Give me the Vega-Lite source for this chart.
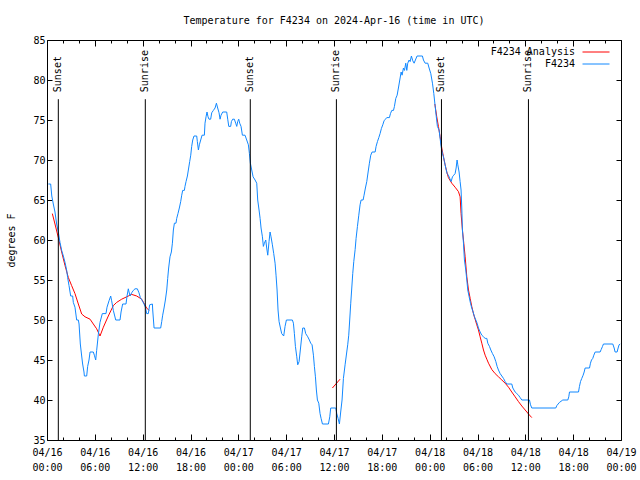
{
  "$schema": "https://vega.github.io/schema/vega-lite/v6.json",
  "width": 574,
  "height": 400,
  "autosize": "none",
  "padding": {"left": 47, "top": 40, "right": 19, "bottom": 40},
  "background": "white",
  "title": {"text": "Temperature for F4234 on 2024-Apr-16 (time in UTC)", "font": "DejaVu Sans Mono", "fontSize": 10, "fontWeight": "normal", "color": "black", "offset": 9},
  "config": {
    "view": {"stroke": "black", "strokeWidth": 1},
    "axis": {"domain": false, "grid": false, "labelFont": "DejaVu Sans Mono", "labelFontSize": 10, "labelColor": "black", "tickColor": "black", "titleFont": "DejaVu Sans Mono", "titleFontSize": 10, "titleFontWeight": "normal", "titleColor": "black"}
  },
  "datasets": {
    "analysis": [
      {"h":0.67,"t":63.3,"s":"F4234 Analysis","g":1},{"h":1.0,"t":62,"s":"F4234 Analysis","g":1},{"h":1.42,"t":60.3,"s":"F4234 Analysis","g":1},{"h":1.84,"t":58.5,"s":"F4234 Analysis","g":1},{"h":2.26,"t":56.8,"s":"F4234 Analysis","g":1},{"h":2.68,"t":55.3,"s":"F4234 Analysis","g":1},{"h":3.09,"t":54.3,"s":"F4234 Analysis","g":1},{"h":3.51,"t":53.3,"s":"F4234 Analysis","g":1},{"h":3.93,"t":52,"s":"F4234 Analysis","g":1},{"h":4.35,"t":50.75,"s":"F4234 Analysis","g":1},{"h":4.77,"t":50.4,"s":"F4234 Analysis","g":1},{"h":5.4,"t":50.1,"s":"F4234 Analysis","g":1},{"h":5.81,"t":49.5,"s":"F4234 Analysis","g":1},{"h":6.23,"t":48.9,"s":"F4234 Analysis","g":1},{"h":6.65,"t":48,"s":"F4234 Analysis","g":1},{"h":7.07,"t":49.1,"s":"F4234 Analysis","g":1},{"h":7.69,"t":50.5,"s":"F4234 Analysis","g":1},{"h":8.32,"t":51.8,"s":"F4234 Analysis","g":1},{"h":8.74,"t":52.2,"s":"F4234 Analysis","g":1},{"h":9.37,"t":52.6,"s":"F4234 Analysis","g":1},{"h":10.0,"t":52.9,"s":"F4234 Analysis","g":1},{"h":10.62,"t":53.2,"s":"F4234 Analysis","g":1},{"h":11.25,"t":53.0,"s":"F4234 Analysis","g":1},{"h":11.88,"t":52.6,"s":"F4234 Analysis","g":1},{"h":12.21,"t":52,"s":"F4234 Analysis","g":1},{"h":12.5,"t":51.5,"s":"F4234 Analysis","g":1},{"h":12.8,"t":51.2,"s":"F4234 Analysis","g":1},
      {"h":35.8,"t":41.5,"s":"F4234 Analysis","g":2},{"h":36.76,"t":42.6,"s":"F4234 Analysis","g":2},
      {"h":48.65,"t":77,"s":"F4234 Analysis","g":3},{"h":48.89,"t":75.4,"s":"F4234 Analysis","g":3},{"h":49.1,"t":74.2,"s":"F4234 Analysis","g":3},{"h":49.31,"t":72.9,"s":"F4234 Analysis","g":3},{"h":49.52,"t":71.5,"s":"F4234 Analysis","g":3},{"h":49.73,"t":70.4,"s":"F4234 Analysis","g":3},{"h":49.94,"t":69.4,"s":"F4234 Analysis","g":3},{"h":50.15,"t":68.5,"s":"F4234 Analysis","g":3},{"h":50.35,"t":67.8,"s":"F4234 Analysis","g":3},{"h":50.77,"t":67.1,"s":"F4234 Analysis","g":3},{"h":51.19,"t":66.6,"s":"F4234 Analysis","g":3},{"h":51.61,"t":66.05,"s":"F4234 Analysis","g":3},{"h":51.82,"t":65.4,"s":"F4234 Analysis","g":3},{"h":51.94,"t":63.3,"s":"F4234 Analysis","g":3},{"h":52.11,"t":61.25,"s":"F4234 Analysis","g":3},{"h":52.28,"t":59.6,"s":"F4234 Analysis","g":3},{"h":52.45,"t":57.9,"s":"F4234 Analysis","g":3},{"h":52.66,"t":55.4,"s":"F4234 Analysis","g":3},{"h":52.87,"t":53.75,"s":"F4234 Analysis","g":3},{"h":53.08,"t":52.7,"s":"F4234 Analysis","g":3},{"h":53.28,"t":51.7,"s":"F4234 Analysis","g":3},{"h":53.49,"t":50.8,"s":"F4234 Analysis","g":3},{"h":53.7,"t":50.1,"s":"F4234 Analysis","g":3},{"h":53.91,"t":49.4,"s":"F4234 Analysis","g":3},{"h":54.12,"t":48.75,"s":"F4234 Analysis","g":3},{"h":54.33,"t":47.9,"s":"F4234 Analysis","g":3},{"h":54.54,"t":47.1,"s":"F4234 Analysis","g":3},{"h":54.75,"t":46.25,"s":"F4234 Analysis","g":3},{"h":54.96,"t":45.6,"s":"F4234 Analysis","g":3},{"h":55.17,"t":45.1,"s":"F4234 Analysis","g":3},{"h":55.38,"t":44.6,"s":"F4234 Analysis","g":3},{"h":55.8,"t":43.8,"s":"F4234 Analysis","g":3},{"h":56.21,"t":43.3,"s":"F4234 Analysis","g":3},{"h":56.63,"t":42.9,"s":"F4234 Analysis","g":3},{"h":57.05,"t":42.5,"s":"F4234 Analysis","g":3},{"h":57.47,"t":42.1,"s":"F4234 Analysis","g":3},{"h":57.89,"t":41.6,"s":"F4234 Analysis","g":3},{"h":58.3,"t":41.0,"s":"F4234 Analysis","g":3},{"h":58.72,"t":40.4,"s":"F4234 Analysis","g":3},{"h":59.14,"t":39.8,"s":"F4234 Analysis","g":3},{"h":59.56,"t":39.25,"s":"F4234 Analysis","g":3},{"h":59.98,"t":38.75,"s":"F4234 Analysis","g":3},{"h":60.4,"t":38.25,"s":"F4234 Analysis","g":3},{"h":60.81,"t":37.8,"s":"F4234 Analysis","g":3}
    ],
    "obs": [
      {"h":0.17,"t":67},{"h":0.46,"t":67},{"h":0.6,"t":65.5},{"h":0.79,"t":64.5},{"h":1.0,"t":63.5},{"h":1.21,"t":62},{"h":1.42,"t":61},{"h":1.63,"t":59.7},{"h":1.84,"t":58.7},{"h":2.05,"t":58},{"h":2.26,"t":57.2},{"h":2.47,"t":56.2},{"h":2.59,"t":55.3},{"h":2.76,"t":54.3},{"h":2.97,"t":53},{"h":3.22,"t":53},{"h":3.3,"t":52.2},{"h":3.51,"t":51.6},{"h":3.72,"t":50},{"h":3.93,"t":50},{"h":4.02,"t":49.5},{"h":4.18,"t":47},{"h":4.35,"t":45.5},{"h":4.47,"t":44.5},{"h":4.64,"t":43.5},{"h":4.69,"t":43},{"h":4.98,"t":43},{"h":5.1,"t":44.2},{"h":5.27,"t":45},{"h":5.4,"t":46},{"h":5.81,"t":46},{"h":5.94,"t":45.6},{"h":6.11,"t":45},{"h":6.23,"t":46.2},{"h":6.44,"t":48.2},{"h":6.65,"t":49.7},{"h":6.94,"t":50.8},{"h":7.4,"t":50.8},{"h":7.53,"t":51.6},{"h":7.78,"t":52.4},{"h":7.99,"t":53},{"h":8.11,"t":52.4},{"h":8.32,"t":51.2},{"h":8.62,"t":50},{"h":9.16,"t":50},{"h":9.29,"t":51},{"h":9.49,"t":52},{"h":9.91,"t":52},{"h":10.04,"t":53},{"h":10.2,"t":53.9},{"h":10.41,"t":53},{"h":10.62,"t":53.4},{"h":10.83,"t":53.7},{"h":11.04,"t":53.9},{"h":11.33,"t":53.9},{"h":11.54,"t":53.4},{"h":11.71,"t":52.8},{"h":11.96,"t":52.4},{"h":12.17,"t":52},{"h":12.34,"t":51.6},{"h":12.5,"t":50.8},{"h":12.71,"t":50.8},{"h":12.88,"t":51.9},{"h":13.22,"t":52},{"h":13.26,"t":51.25},{"h":13.43,"t":49},{"h":14.26,"t":49},{"h":14.39,"t":49.8},{"h":14.51,"t":50.6},{"h":14.68,"t":51.5},{"h":14.85,"t":52.5},{"h":15.02,"t":53.75},{"h":15.14,"t":55.2},{"h":15.26,"t":56.5},{"h":15.43,"t":57.9},{"h":15.6,"t":58.5},{"h":15.73,"t":59.6},{"h":15.85,"t":61.25},{"h":15.98,"t":62.1},{"h":16.18,"t":62.1},{"h":16.27,"t":62.7},{"h":16.43,"t":63.3},{"h":16.6,"t":64},{"h":16.77,"t":64.8},{"h":16.9,"t":65.6},{"h":17.02,"t":66.2},{"h":17.23,"t":66.2},{"h":17.31,"t":66.7},{"h":17.44,"t":67.3},{"h":17.61,"t":68},{"h":17.73,"t":68.75},{"h":17.9,"t":69.8},{"h":18.03,"t":70.6},{"h":18.15,"t":71.7},{"h":18.28,"t":72.5},{"h":18.44,"t":73},{"h":18.78,"t":73},{"h":18.86,"t":72.3},{"h":18.99,"t":71.25},{"h":19.11,"t":71.9},{"h":19.28,"t":72.5},{"h":19.45,"t":73.1},{"h":19.74,"t":73.1},{"h":19.82,"t":74.6},{"h":19.95,"t":75.4},{"h":20.07,"t":76},{"h":20.2,"t":75.4},{"h":20.32,"t":75.1},{"h":20.53,"t":75.1},{"h":20.66,"t":75.9},{"h":20.87,"t":76.2},{"h":21.08,"t":76.5},{"h":21.25,"t":77.1},{"h":21.41,"t":76.5},{"h":21.58,"t":75.9},{"h":21.71,"t":75.1},{"h":21.83,"t":75.6},{"h":22.04,"t":76},{"h":22.54,"t":76},{"h":22.67,"t":75.1},{"h":22.8,"t":74.2},{"h":23.04,"t":74.2},{"h":23.13,"t":74.8},{"h":23.29,"t":75.1},{"h":23.5,"t":75.1},{"h":23.67,"t":74.6},{"h":23.8,"t":74.2},{"h":23.92,"t":74.8},{"h":24.05,"t":75.1},{"h":24.17,"t":74.6},{"h":24.34,"t":74.2},{"h":24.51,"t":73.1},{"h":24.84,"t":73.1},{"h":25.05,"t":72.5},{"h":25.26,"t":71.9},{"h":25.39,"t":70.8},{"h":25.51,"t":69.6},{"h":25.68,"t":68.75},{"h":25.85,"t":67.9},{"h":26.1,"t":67.5},{"h":26.31,"t":67.1},{"h":26.43,"t":65},{"h":26.6,"t":63.75},{"h":26.73,"t":62.7},{"h":26.85,"t":61.5},{"h":27.02,"t":60.4},{"h":27.14,"t":59.2},{"h":27.27,"t":59.6},{"h":27.44,"t":60},{"h":27.56,"t":59},{"h":27.69,"t":58.1},{"h":27.85,"t":59.8},{"h":27.98,"t":61},{"h":28.1,"t":60.4},{"h":28.27,"t":59.4},{"h":28.44,"t":58.3},{"h":28.61,"t":57.1},{"h":28.73,"t":55.6},{"h":28.86,"t":53.75},{"h":28.98,"t":51.25},{"h":29.11,"t":49.8},{"h":29.28,"t":49},{"h":29.44,"t":48.3},{"h":29.69,"t":48},{"h":29.86,"t":49.2},{"h":30.03,"t":50},{"h":30.78,"t":50},{"h":30.91,"t":49.6},{"h":31.03,"t":48.3},{"h":31.16,"t":46.7},{"h":31.33,"t":45.4},{"h":31.45,"t":44.4},{"h":31.62,"t":44.8},{"h":31.75,"t":46},{"h":31.95,"t":47.9},{"h":32.08,"t":49},{"h":32.29,"t":49},{"h":32.45,"t":48.3},{"h":32.71,"t":47.9},{"h":32.91,"t":47.5},{"h":33.08,"t":47.1},{"h":33.25,"t":46.9},{"h":33.42,"t":45.6},{"h":33.54,"t":44.2},{"h":33.67,"t":42.9},{"h":33.79,"t":41.25},{"h":33.92,"t":40},{"h":34.09,"t":39.6},{"h":34.25,"t":38.3},{"h":34.38,"t":37.7},{"h":34.55,"t":37},{"h":35.3,"t":37},{"h":35.47,"t":37.9},{"h":35.59,"t":39},{"h":36.22,"t":39},{"h":36.35,"t":38.3},{"h":36.51,"t":37.7},{"h":36.68,"t":37},{"h":36.84,"t":38.5},{"h":37.01,"t":40},{"h":37.18,"t":42.7},{"h":37.39,"t":44.4},{"h":37.6,"t":46},{"h":37.72,"t":46.9},{"h":37.85,"t":48.1},{"h":37.97,"t":50},{"h":38.1,"t":52.1},{"h":38.23,"t":54},{"h":38.35,"t":55.8},{"h":38.48,"t":57.3},{"h":38.65,"t":58.8},{"h":38.77,"t":60.2},{"h":38.94,"t":61.7},{"h":39.11,"t":63.1},{"h":39.27,"t":64.4},{"h":39.4,"t":65},{"h":39.65,"t":65},{"h":39.77,"t":65.6},{"h":39.94,"t":66.5},{"h":40.11,"t":67.3},{"h":40.28,"t":68.5},{"h":40.44,"t":69.6},{"h":40.61,"t":70.6},{"h":40.78,"t":71},{"h":41.16,"t":71},{"h":41.28,"t":71.7},{"h":41.45,"t":72.3},{"h":41.62,"t":72.8},{"h":41.78,"t":73.3},{"h":41.95,"t":73.95},{"h":42.12,"t":74.4},{"h":42.28,"t":74.9},{"h":42.45,"t":75.1},{"h":42.62,"t":75.3},{"h":42.95,"t":75.3},{"h":43.08,"t":75.8},{"h":43.25,"t":76.2},{"h":43.46,"t":76.2},{"h":43.58,"t":76.7},{"h":43.75,"t":77.7},{"h":43.92,"t":78.1},{"h":44.08,"t":79},{"h":44.25,"t":80},{"h":44.42,"t":81},{"h":44.54,"t":80.6},{"h":44.71,"t":81.5},{"h":44.84,"t":81.2},{"h":45.0,"t":82.1},{"h":45.13,"t":81.2},{"h":45.25,"t":82.1},{"h":45.42,"t":82.5},{"h":45.55,"t":82.3},{"h":45.71,"t":83},{"h":45.88,"t":82.4},{"h":46.05,"t":82.1},{"h":46.21,"t":82.5},{"h":46.42,"t":83},{"h":47.09,"t":83},{"h":47.22,"t":82.5},{"h":47.43,"t":82.1},{"h":47.76,"t":82.1},{"h":47.93,"t":81.5},{"h":48.14,"t":80.8},{"h":48.35,"t":79.6},{"h":48.52,"t":78.3},{"h":48.68,"t":76.8},{"h":48.81,"t":75.6},{"h":48.97,"t":74.2},{"h":49.18,"t":73.75},{"h":49.31,"t":72.7},{"h":49.43,"t":71.7},{"h":49.6,"t":70.8},{"h":49.73,"t":70.4},{"h":49.85,"t":69.8},{"h":50.02,"t":69},{"h":50.19,"t":68.3},{"h":50.35,"t":68.1},{"h":50.52,"t":67.7},{"h":50.69,"t":67.3},{"h":50.86,"t":67.9},{"h":51.02,"t":68.1},{"h":51.19,"t":68.3},{"h":51.32,"t":69},{"h":51.44,"t":70},{"h":51.53,"t":69.4},{"h":51.69,"t":68.5},{"h":51.82,"t":67.3},{"h":51.94,"t":66.25},{"h":52.03,"t":64},{"h":52.11,"t":61.25},{"h":52.24,"t":59.6},{"h":52.36,"t":57.5},{"h":52.53,"t":56.25},{"h":52.66,"t":55},{"h":52.78,"t":53.75},{"h":52.95,"t":52.9},{"h":53.12,"t":52.1},{"h":53.28,"t":51.5},{"h":53.45,"t":51},{"h":53.62,"t":50.4},{"h":53.79,"t":50},{"h":53.95,"t":49.6},{"h":54.12,"t":49},{"h":54.33,"t":48.5},{"h":54.54,"t":48.1},{"h":54.75,"t":47.9},{"h":54.96,"t":47.7},{"h":55.17,"t":47.7},{"h":55.29,"t":47.1},{"h":55.5,"t":46.7},{"h":55.67,"t":46.25},{"h":55.88,"t":45.8},{"h":56.09,"t":45.4},{"h":56.3,"t":44.8},{"h":56.46,"t":44.2},{"h":56.63,"t":43.75},{"h":56.84,"t":43.3},{"h":57.05,"t":43},{"h":57.26,"t":42.7},{"h":57.47,"t":42.3},{"h":57.68,"t":42},{"h":58.3,"t":42},{"h":58.43,"t":41.5},{"h":58.72,"t":41},{"h":58.93,"t":40.8},{"h":59.14,"t":40.6},{"h":59.35,"t":40.3},{"h":59.56,"t":40},{"h":60.52,"t":40},{"h":60.65,"t":39.4},{"h":60.81,"t":39},{"h":63.82,"t":39},{"h":63.95,"t":39.3},{"h":64.28,"t":39.7},{"h":64.7,"t":40},{"h":65.33,"t":40},{"h":65.45,"t":40.4},{"h":65.54,"t":41},{"h":66.67,"t":41},{"h":66.79,"t":41.7},{"h":66.92,"t":42.3},{"h":67.08,"t":42.7},{"h":67.25,"t":43.1},{"h":67.38,"t":43.5},{"h":67.5,"t":44},{"h":68.05,"t":44},{"h":68.17,"t":44.6},{"h":68.3,"t":45},{"h":68.46,"t":45.2},{"h":68.59,"t":45.6},{"h":68.76,"t":46},{"h":69.38,"t":46},{"h":69.51,"t":46.3},{"h":69.68,"t":46.7},{"h":69.8,"t":47},{"h":70.97,"t":47},{"h":71.14,"t":46.5},{"h":71.26,"t":46},{"h":71.51,"t":46},{"h":71.64,"t":46.5},{"h":71.76,"t":46.9},{"h":71.9,"t":47}
    ],
    "events": [
      {"h":1.42,"label":"Sunset"},{"h":12.33,"label":"Sunrise"},{"h":25.5,"label":"Sunset"},{"h":36.3,"label":"Sunrise"},{"h":49.48,"label":"Sunset"},{"h":60.39,"label":"Sunrise"}
    ]
  },
  "layer": [
    {
      "data": {"name": "analysis"},
      "mark": {"type": "line", "strokeWidth": 1},
      "encoding": {
        "x": {"field": "h", "type": "quantitative", "scale": {"domain": [0, 72], "nice": false, "zero": false},
          "axis": {"orient": "bottom", "title": null, "values": [0,2,4,6,8,10,12,14,16,18,20,22,24,26,28,30,32,34,36,38,40,42,44,46,48,50,52,54,56,58,60,62,64,66,68,70,72],
            "labelExpr": "datum.value % 6 == 0 ? ['04/' + (16 + floor(datum.value / 24)), (datum.value % 24 < 10 ? '0' : '') + (datum.value % 24) + ':00'] : ''",
            "tickSize": {"condition": {"test": "datum.value % 6 == 0", "value": -6}, "value": -3},
            "labelPadding": 13, "labelLineHeight": 15, "labelFlush": false, "labelOverlap": false, "labelBaseline": "top"}},
        "y": {"field": "t", "type": "quantitative", "scale": {"domain": [35, 85], "nice": false, "zero": false},
          "axis": {"orient": "left", "title": "degrees F", "values": [35,40,45,50,55,60,65,70,75,80,85], "tickSize": -5, "labelPadding": 7, "titlePadding": 16, "labelFlush": false}},
        "color": {"field": "s", "type": "nominal", "scale": {"domain": ["F4234 Analysis", "F4234"], "range": ["#ff0000", "#1188ff"]},
          "legend": {"orient": "none", "legendX": 544, "legendY": 7, "title": null, "symbolType": "M-3,0H3", "symbolSize": 81, "symbolStrokeWidth": 1, "labelAlign": "right", "labelOffset": -26, "labelFont": "DejaVu Sans Mono", "labelFontSize": 10, "labelColor": "black", "padding": 0, "rowPadding": 2}},
        "detail": {"field": "g", "type": "nominal"}
      }
    },
    {
      "data": {"name": "obs"},
      "transform": [{"calculate": "'F4234'", "as": "s"}],
      "mark": {"type": "line", "strokeWidth": 1},
      "encoding": {
        "x": {"field": "h", "type": "quantitative", "axis": null},
        "y": {"field": "t", "type": "quantitative", "axis": null},
        "color": {"field": "s", "type": "nominal"}
      }
    },
    {
      "data": {"name": "events"},
      "mark": {"type": "rule", "color": "black", "strokeWidth": 1},
      "encoding": {
        "x": {"field": "h", "type": "quantitative",
          "axis": {"orient": "top", "title": null, "labels": false, "values": [0,2,4,6,8,10,12,14,16,18,20,22,24,26,28,30,32,34,36,38,40,42,44,46,48,50,52,54,56,58,60,62,64,66,68,70,72],
            "tickSize": {"condition": {"test": "datum.value % 6 == 0", "value": -6}, "value": -3}}},
        "y": {"datum": 35, "type": "quantitative", "axis": {"orient": "right", "title": null, "labels": false, "values": [35,40,45,50,55,60,65,70,75,80,85], "tickSize": -5}},
        "y2": {"datum": 77.6}
      }
    },
    {
      "data": {"name": "events"},
      "mark": {"type": "text", "angle": 270, "align": "left", "baseline": "middle", "dx": 7, "font": "DejaVu Sans Mono", "fontSize": 10, "color": "black"},
      "encoding": {
        "x": {"field": "h", "type": "quantitative", "axis": null},
        "y": {"datum": 77.6, "type": "quantitative", "axis": null},
        "text": {"field": "label"}
      }
    }
  ],
  "resolve": {"axis": {"x": "independent", "y": "independent"}}
}
